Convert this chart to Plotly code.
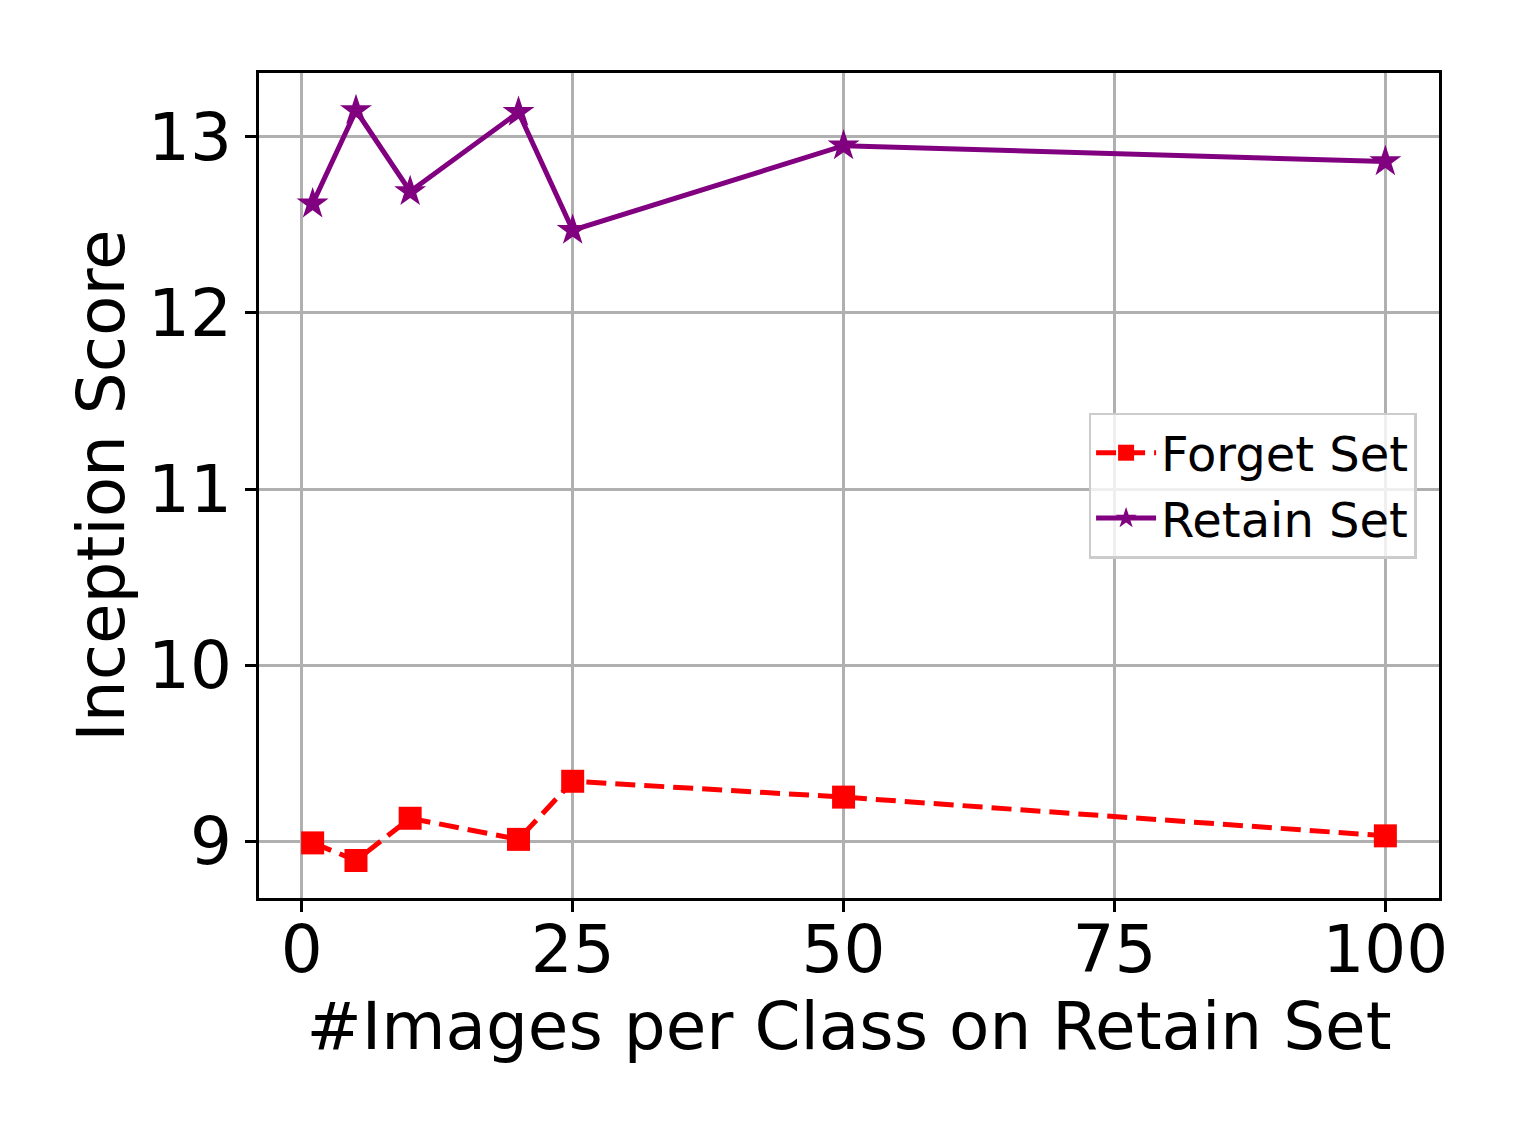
import plotly.graph_objects as go

images_per_class = [1, 5, 10, 20, 25, 50, 100]
forget_set = [8.99, 8.89, 9.13, 9.01, 9.34, 9.25, 9.03]
retain_set = [12.62, 13.15, 12.69, 13.14, 12.47, 12.95, 12.86]
x_ticks = [0, 25, 50, 75, 100]
y_ticks = [9, 10, 11, 12, 13]

fig = go.Figure()
fig.add_trace(go.Scatter(
    x=images_per_class, y=forget_set, mode="lines+markers", name="Forget Set",
    line=dict(color="red", width=5, dash="20px,9px"),
    marker=dict(symbol="square", size=23, color="red"),
))
fig.add_trace(go.Scatter(
    x=images_per_class, y=retain_set, mode="lines+markers", name="Retain Set",
    line=dict(color="purple", width=5),
    marker=dict(symbol="star", size=24, color="purple"),
))

font = "DejaVu Sans"
axis_common = dict(
    showgrid=True, gridcolor="#b0b0b0", gridwidth=2.5,
    showline=True, linecolor="black", linewidth=2.5, mirror=True,
    ticks="outside", ticklen=11, tickwidth=2.5, tickcolor="black",
    zeroline=False,
    tickfont=dict(family=font, size=66, color="black"),
)
fig.update_layout(
    width=1522, height=1141,
    margin=dict(l=251, r=91, t=65, b=251),
    paper_bgcolor="white", plot_bgcolor="white",
    font=dict(family=font, color="black"),
    xaxis=dict(range=[-3.95, 104.95], tickvals=x_ticks,
               ticklabelstandoff=-19,
               title=dict(text="#Images per Class on Retain Set",
                          font=dict(family=font, size=66), standoff=0),
               **axis_common),
    yaxis=dict(range=[8.677, 13.363], tickvals=y_ticks,
               title=dict(text="Inception Score",
                          font=dict(family=font, size=66), standoff=2),
               **axis_common),
    legend=dict(x=0.981, y=0.5, xanchor="right", yanchor="middle",
                bgcolor="rgba(255,255,255,0.8)", bordercolor="#cccccc",
                borderwidth=2.5, font=dict(family=font, size=48),
                itemwidth=60),
    showlegend=True,
)
fig.write_html("out.html")
